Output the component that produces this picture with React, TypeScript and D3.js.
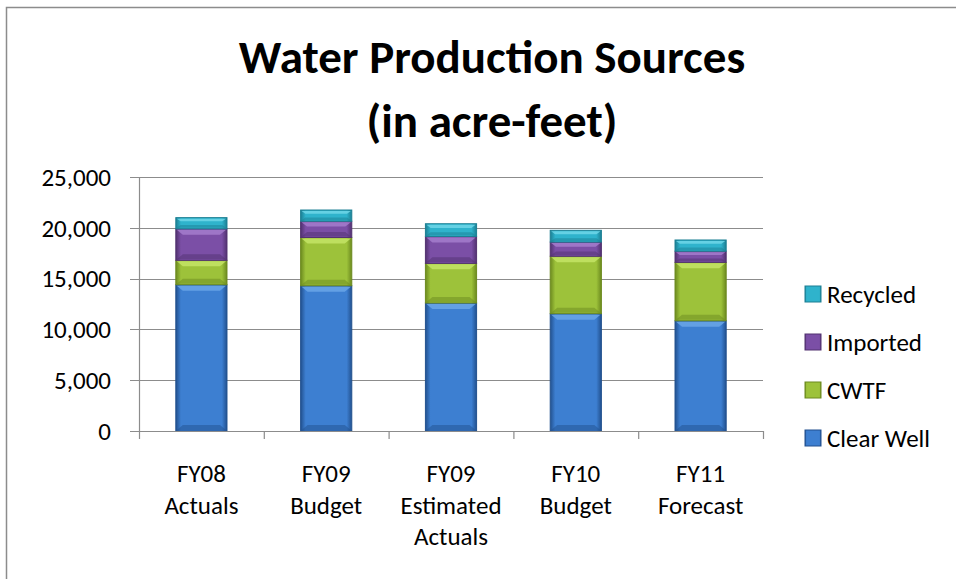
import * as d3 from 'd3';

const categories = [
  ['FY08', 'Actuals'],
  ['FY09', 'Budget'],
  ['FY09', 'Estimated', 'Actuals'],
  ['FY10', 'Budget'],
  ['FY11', 'Forecast'],
];
const seriesNames = ['Clear Well', 'CWTF', 'Imported', 'Recycled'];
const clearWell = [14400, 14300, 12600, 11550, 10850];
const cwtf = [2400, 4750, 3900, 5650, 5750];
const imported = [3100, 1600, 2650, 1400, 1100];
const recycled = [1100, 1100, 1250, 1150, 1100];
const yTicks = [0, 5000, 10000, 15000, 20000, 25000];

// base, dark edge, light top
const palette = [
  { base: '#3d7fd1', dark: '#22518f', light: '#6aa6e8' },
  { base: '#9dc23a', dark: '#6c8a1f', light: '#c4e466' },
  { base: '#7b4fa6', dark: '#523270', light: '#a47ccd' },
  { base: '#2fb3cc', dark: '#1c7f93', light: '#6fd6e8' },
];

const font = "Carlito, 'Liberation Sans Narrow', Lato, sans-serif";

export default function App() {
  const width = 956;
  const height = 579;
  const margin = { top: 177, right: 193, bottom: 148, left: 139 };

  const rows = categories.map((c, i) => ({
    key: i,
    'Clear Well': clearWell[i],
    CWTF: cwtf[i],
    Imported: imported[i],
    Recycled: recycled[i],
  }));
  const stacked = d3.stack<any>().keys(seriesNames)(rows);

  const x = d3
    .scaleBand<number>()
    .domain(categories.map((_, i) => i))
    .range([margin.left, width - margin.right]);

  const y = d3
    .scaleLinear()
    .domain([0, 25000])
    .range([height - margin.bottom, margin.top]);

  const barW = x.bandwidth() * 0.41;
  const fmt = d3.format(',');
  const axisY = y(0);

  return (
    <svg
      width={width}
      height={height}
      style={{ position: 'absolute', left: 0, top: 0, background: '#fff' }}
      fontFamily={font}
    >
      <defs>
        {palette.map((p, i) => (
          <linearGradient key={i} id={`g${i}`} x1="0" x2="1" y1="0" y2="0">
            <stop offset="0%" stopColor={p.dark} />
            <stop offset="10%" stopColor={p.base} />
            <stop offset="90%" stopColor={p.base} />
            <stop offset="100%" stopColor={p.dark} />
          </linearGradient>
        ))}
      </defs>

      {/* frame */}
      <path d={`M6.5,${height} V7.5 H${width}`} fill="none" stroke="#8c8c8c" strokeWidth={1.5} />

      {/* title */}
      <text x={492} y={73} textAnchor="middle" fontSize={47} fontWeight="bold" fill="#000">
        Water Production Sources
      </text>
      <text x={492} y={137} textAnchor="middle" fontSize={47} fontWeight="bold" fill="#000">
        (in acre-feet)
      </text>

      {/* gridlines + y labels */}
      {yTicks.map((t) => (
        <g key={t}>
          <line
            x1={margin.left - 9}
            x2={width - margin.right}
            y1={Math.round(y(t)) + 0.5}
            y2={Math.round(y(t)) + 0.5}
            stroke="#8c8c8c"
            strokeWidth={1.2}
          />
          <text x={111} y={y(t)} dy="0.35em" textAnchor="end" fontSize={25} fill="#000">
            {fmt(t)}
          </text>
        </g>
      ))}

      {/* y axis */}
      <line x1={margin.left + 0.5} x2={margin.left + 0.5} y1={y(25000)} y2={axisY} stroke="#8c8c8c" strokeWidth={1.2} />

      {/* x ticks */}
      {[...categories.map((_, i) => x(i)!), width - margin.right].map((v, i) => (
        <line key={i} x1={v + 0.5} x2={v + 0.5} y1={axisY} y2={axisY + 8} stroke="#8c8c8c" strokeWidth={1.2} />
      ))}

      {/* bars */}
      {stacked.map((s, si) => (
        <g key={s.key}>
          {s.map((d, i) => {
            const x0 = x(i)! + (x.bandwidth() - barW) / 2;
            const yTop = y(d[1]);
            const yBot = y(d[0]);
            const h = yBot - yTop;
            const bev = Math.min(6, h / 3);
            const p = palette[si];
            return (
              <g key={i}>
                <rect x={x0} y={yTop} width={barW} height={h} fill={`url(#g${si})`} stroke={p.dark} strokeWidth={1} />
                <path
                  d={`M${x0 + 1},${yTop + 1} H${x0 + barW - 1} L${x0 + barW - 1 - bev},${yTop + bev} H${x0 + 1 + bev} Z`}
                  fill={p.light}
                  opacity={0.85}
                />
                <path
                  d={`M${x0 + 1},${yBot - 1} H${x0 + barW - 1} L${x0 + barW - 1 - bev},${yBot - bev} H${x0 + 1 + bev} Z`}
                  fill={p.dark}
                  opacity={0.5}
                />
              </g>
            );
          })}
        </g>
      ))}

      {/* x axis line */}
      <line x1={margin.left} x2={width - margin.right + 1} y1={Math.round(axisY) + 0.5} y2={Math.round(axisY) + 0.5} stroke="#8c8c8c" strokeWidth={1.2} />

      {/* category labels */}
      {categories.map((lines, i) => (
        <text key={i} x={x(i)! + x.bandwidth() / 2} y={482} textAnchor="middle" fontSize={25} fill="#000">
          {lines.map((l, j) => (
            <tspan key={j} x={x(i)! + x.bandwidth() / 2} dy={j === 0 ? 0 : 31.7}>
              {l}
            </tspan>
          ))}
        </text>
      ))}

      {/* legend */}
      {seriesNames
        .slice()
        .reverse()
        .map((name, k) => {
          const si = seriesNames.length - 1 - k;
          const cy = 294 + k * 48;
          const p = palette[si];
          return (
            <g key={name}>
              <rect x={805} y={cy - 8} width={16} height={16} fill={`url(#g${si})`} stroke={p.dark} strokeWidth={1} />
              <rect x={808} y={cy - 5} width={10} height={10} fill={p.base} />
              <text x={827} y={cy} dy="0.35em" fontSize={25} fill="#000">
                {name}
              </text>
            </g>
          );
        })}
    </svg>
  );
}
